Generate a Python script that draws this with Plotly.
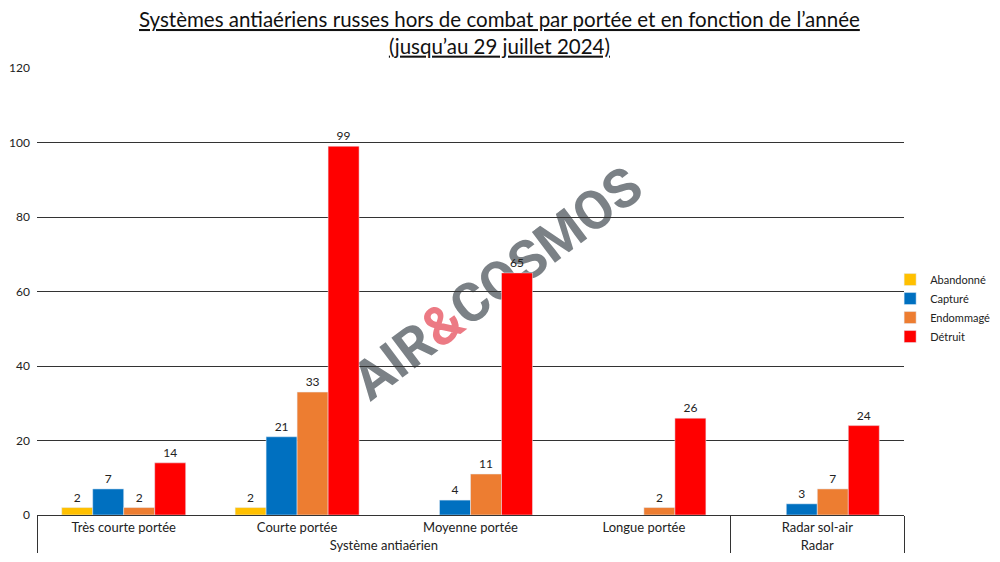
import plotly.graph_objects as go

groups = ["Système antiaérien", "Système antiaérien", "Système antiaérien", "Système antiaérien", "Radar"]
categories = ["Très courte portée", "Courte portée", "Moyenne portée", "Longue portée", "Radar sol-air"]
series_names = ["Abandonné", "Capturé", "Endommagé", "Détruit"]
abandonne = [2, 2, None, None, None]
capture = [7, 21, 4, None, 3]
endommage = [2, 33, 11, 2, 7]
detruit = [14, 99, 65, 26, 24]
colors = ["#FFC000", "#0070C0", "#ED7D31", "#FF0000"]
y_ticks = [0, 20, 40, 60, 80, 100, 120]

FONT = "Lato, 'Open Sans', sans-serif"

fig = go.Figure()
for name, vals, col in zip(series_names, [abandonne, capture, endommage, detruit], colors):
    fig.add_trace(go.Bar(
        x=[groups, categories], y=vals, name=name, marker_color=col,
        text=[("" if v is None else str(v)) for v in vals],
        textposition="outside", cliponaxis=False,
        textfont=dict(size=12, color="#222", family=FONT),
    ))

fig.update_layout(
    width=1000, height=562,
    margin=dict(l=37, r=96, t=68, b=47, autoexpand=False),
    paper_bgcolor="white", plot_bgcolor="white",
    barmode="group", bargap=0.285, bargroupgap=0,
    font=dict(family=FONT, size=12, color="#222"),
    legend=dict(
        x=0.984, xanchor="left", y=0.463, yanchor="middle",
        font=dict(size=11, color="#222", family=FONT),
        tracegroupgap=0, itemwidth=30, bgcolor="rgba(0,0,0,0)",
    ),
    showlegend=True,
)
fig.update_yaxes(
    range=[0, 120], tickvals=y_ticks, showgrid=True, gridcolor="#333", gridwidth=1,
    zeroline=False, showline=False, ticks="", automargin=False,
    ticklabelstandoff=6, tickfont=dict(size=12, color="#222"),
)
fig.update_xaxes(
    showline=True, linecolor="#333", linewidth=1, ticks="",
    showdividers=True, dividercolor="#333", dividerwidth=1,
    automargin=False, tickfont=dict(size=13, color="#222"),
)

# Title as annotation
fig.add_annotation(
    text="<u>Systèmes antiaériens russes hors de combat par portée et en fonction de l’année</u><br><u>(jusqu’au 29 juillet 2024)</u>",
    xref="paper", yref="paper", x=0.534, y=1.079, xanchor="center", yanchor="middle",
    showarrow=False, font=dict(family=FONT, size=20.5, color="#111"),
)

# Watermark (behind bars and gridlines)
fig.add_shape(
    type="rect", xref="paper", yref="paper", x0=0.294, x1=0.762, y0=0.261, y1=0.791,
    line=dict(width=0), fillcolor="rgba(0,0,0,0)", layer="below",
    label=dict(
        text="<b>AIR<span style='color:#EC7A84'>&amp;</span>COSMOS</b>",
        textangle=-37, textposition="middle center",
        font=dict(family="Roboto, sans-serif", size=54, color="#7B8186"),
    ),
)

fig.write_html("out.html")
